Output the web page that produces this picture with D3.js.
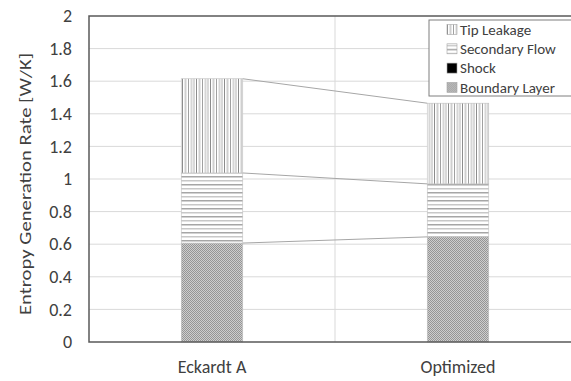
<!DOCTYPE html>
<html>
<head>
<meta charset="utf-8">
<script src="https://cdn.jsdelivr.net/npm/d3@7"></script>
<style>
  body { margin: 0; background: #fff; }
  text { font-family: Calibri, Carlito, "Open Sans", sans-serif; fill: #404040; }
</style>
</head>
<body>
<div class="d3"></div>
<script>
// data
var categories = ["Eckardt A", "Optimized"];
var components = ["Boundary Layer", "Shock", "Secondary Flow", "Tip Leakage"];
var boundaryLayer = [0.607, 0.645];
var shock = [0.0, 0.0];
var secondaryFlow = [0.43, 0.325];
var tipLeakage = [0.578, 0.495];
var yTicks = [0, 0.2, 0.4, 0.6, 0.8, 1, 1.2, 1.4, 1.6, 1.8, 2];
var legendOrder = ["Tip Leakage", "Secondary Flow", "Shock", "Boundary Layer"];

var w = 571, h = 381;
var plotLeft = 89, plotTop = 16, plotBottom = 342, plotRight = 581;

var svg = d3.select(".d3").append("svg")
  .attr("width", w).attr("height", h);

var defs = svg.append("defs");

// tip leakage: vertical stripes
var pTip = defs.append("pattern").attr("id", "pTip")
  .attr("patternUnits", "userSpaceOnUse").attr("width", 14).attr("height", 10);
pTip.append("rect").attr("width", 14).attr("height", 10).attr("fill", "#fff");
[[0, 1, "#8c8c8c"], [2.5, 2, "#cfcfcf"], [6, 1, "#a0a0a0"], [8.5, 2, "#d6d6d6"], [11.5, 1, "#b4b4b4"]]
  .forEach(function(s) {
    pTip.append("rect").attr("x", s[0]).attr("width", s[1]).attr("height", 10).attr("fill", s[2]);
  });

// secondary flow: horizontal lines
var pSec = defs.append("pattern").attr("id", "pSec")
  .attr("patternUnits", "userSpaceOnUse").attr("width", 10).attr("height", 8);
pSec.append("rect").attr("width", 10).attr("height", 8).attr("fill", "#fff");
pSec.append("rect").attr("y", 0).attr("width", 10).attr("height", 1.5).attr("fill", "#a6a6a6");
pSec.append("rect").attr("y", 4).attr("width", 10).attr("height", 1.5).attr("fill", "#c8c8c8");

// boundary layer: fine checker
var pBl = defs.append("pattern").attr("id", "pBl")
  .attr("patternUnits", "userSpaceOnUse").attr("width", 2).attr("height", 2);
pBl.append("rect").attr("width", 2).attr("height", 2).attr("fill", "#cdcdcd");
pBl.append("rect").attr("width", 1).attr("height", 1).attr("fill", "#959595");
pBl.append("rect").attr("x", 1).attr("y", 1).attr("width", 1).attr("height", 1).attr("fill", "#959595");

var fills = {
  "Tip Leakage": "url(#pTip)",
  "Secondary Flow": "url(#pSec)",
  "Shock": "#000",
  "Boundary Layer": "url(#pBl)"
};

var x = d3.scaleBand().domain(categories).range([plotLeft, plotRight]).paddingInner(0).paddingOuter(0);
var y = d3.scaleLinear().domain([0, 2]).range([plotBottom, plotTop]);

// gridlines
svg.append("g").selectAll("line").data(yTicks.slice(1, -1)).enter().append("line")
  .attr("x1", plotLeft).attr("x2", plotRight)
  .attr("y1", d => y(d)).attr("y2", d => y(d))
  .attr("stroke", "#d9d9d9").attr("stroke-width", 1);
svg.append("line")
  .attr("x1", x(categories[1])).attr("x2", x(categories[1]))
  .attr("y1", plotTop).attr("y2", plotBottom)
  .attr("stroke", "#d9d9d9");

// stack
var table = categories.map(function(c, i) {
  return {cat: c, "Boundary Layer": boundaryLayer[i], "Shock": shock[i],
    "Secondary Flow": secondaryFlow[i], "Tip Leakage": tipLeakage[i]};
});
var series = d3.stack().keys(components)(table);

var barW = x.bandwidth() * 0.25;
var bx = d => x(d.data.cat) + (x.bandwidth() - barW) / 2;

// connector lines between bar tops
var connectors = series.filter(s => s.key != "Shock");
svg.append("g").selectAll("line").data(connectors).enter().append("line")
  .attr("x1", s => bx(s[0]) + barW).attr("y1", s => y(s[0][1]))
  .attr("x2", s => bx(s[1])).attr("y2", s => y(s[1][1]))
  .attr("stroke", "#a6a6a6").attr("stroke-width", 1);

svg.append("g").selectAll("g").data(series).enter().append("g")
  .attr("fill", s => fills[s.key])
  .selectAll("rect").data(s => s).enter().append("rect")
  .attr("x", bx)
  .attr("y", d => y(d[1]))
  .attr("width", barW)
  .attr("height", d => y(d[0]) - y(d[1]))
  .attr("stroke", "#bfbfbf").attr("stroke-width", 0.6);

// frame
svg.append("path")
  .attr("d", "M" + plotRight + "," + plotTop + "H" + plotLeft + "V" + plotBottom + "H" + plotRight)
  .attr("fill", "none").attr("stroke", "#595959").attr("stroke-width", 1.5);

// y axis labels
var yAxis = d3.axisLeft(y).tickValues(yTicks).tickSize(0).tickPadding(17)
  .tickFormat(d3.format("~g"));
var ya = svg.append("g").attr("transform", "translate(" + plotLeft + ",0)").call(yAxis);
ya.select(".domain").remove();
ya.selectAll("text").attr("font-size", "18px").attr("fill", "#404040")
  .attr("font-family", "Calibri, Carlito, 'Open Sans', sans-serif");

// x labels
svg.append("g").selectAll("text").data(categories).enter().append("text")
  .attr("x", d => x(d) + x.bandwidth() / 2)
  .attr("y", 373)
  .attr("text-anchor", "middle")
  .attr("font-size", "18px")
  .text(d => d);

// y title
svg.append("text")
  .attr("transform", "translate(31,184) rotate(-90)")
  .attr("text-anchor", "middle")
  .attr("font-size", "15.5px")
  .attr("fill", "#595959")
  .attr("textLength", 262)
  .attr("lengthAdjust", "spacingAndGlyphs")
  .text("Entropy Generation Rate [W/K]");

// legend
var lg = svg.append("g").attr("transform", "translate(429,20)");
lg.append("rect").attr("width", 160).attr("height", 76)
  .attr("fill", "#fff").attr("stroke", "#7f7f7f").attr("stroke-width", 1);
var items = lg.selectAll("g.item").data(legendOrder).enter().append("g")
  .attr("class", "item")
  .attr("transform", (d, i) => "translate(18," + (9.5 + i * 19.3) + ")");
items.append("rect").attr("y", -5).attr("width", 10).attr("height", 10)
  .attr("fill", d => fills[d]).attr("stroke", "#a6a6a6").attr("stroke-width", 0.6);
items.append("text").attr("x", 13).attr("dy", "0.35em")
  .attr("font-size", "15px").text(d => d);
</script>
</body>
</html>
